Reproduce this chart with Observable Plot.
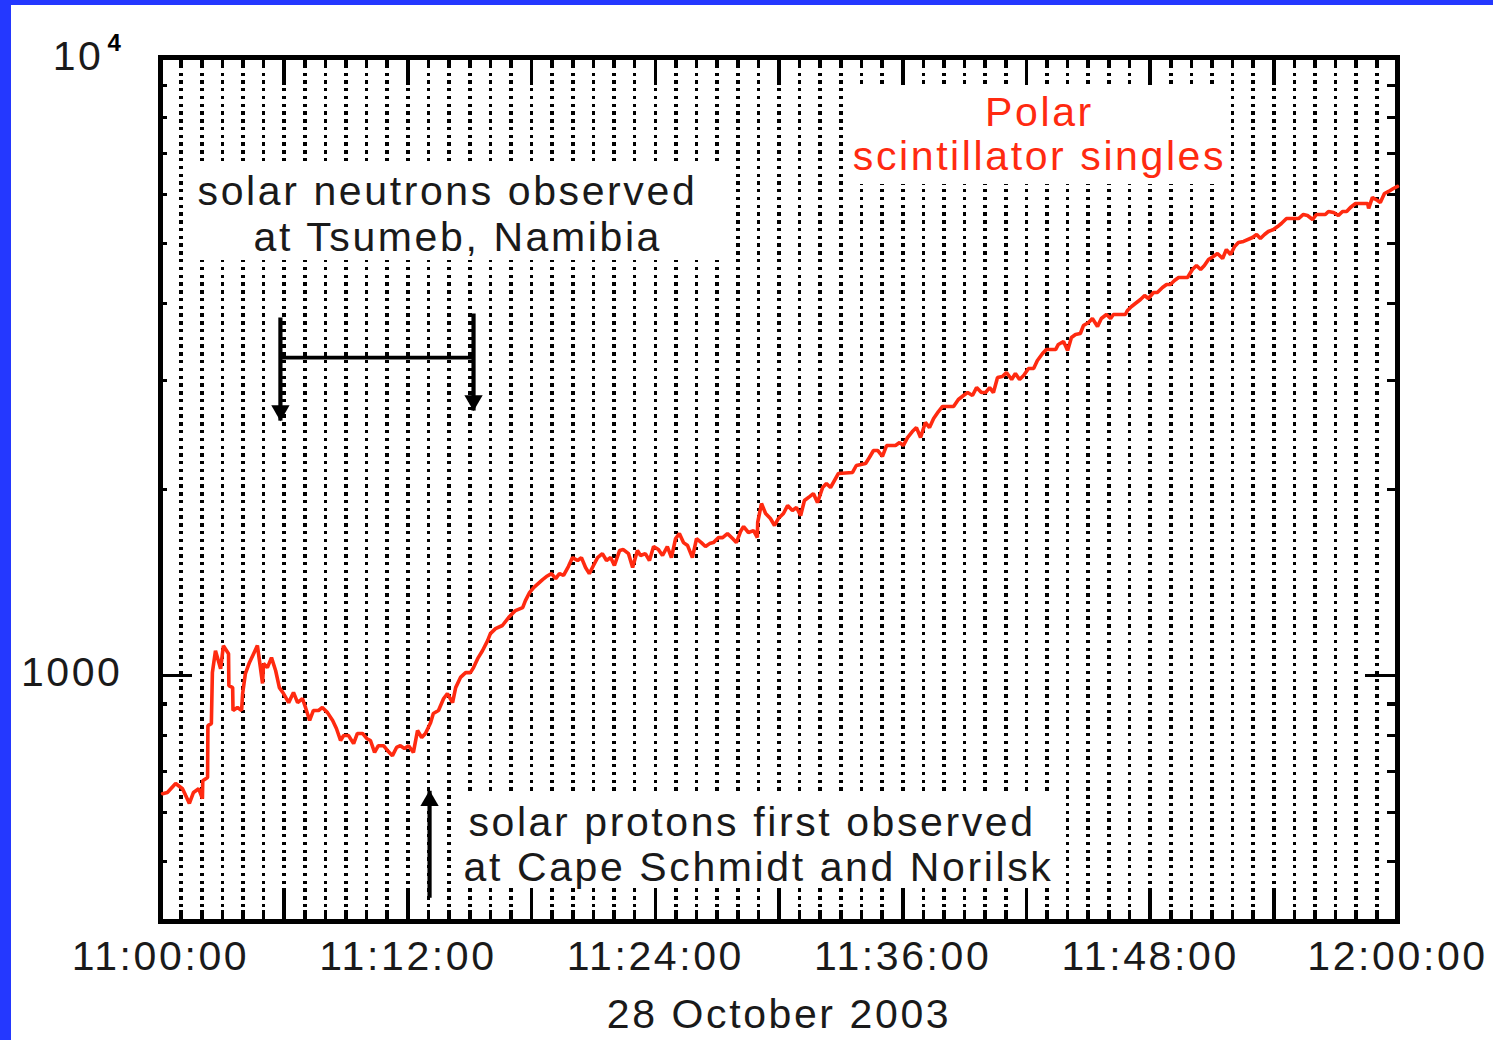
<!DOCTYPE html>
<html>
<head>
<meta charset="utf-8">
<script src="https://cdn.jsdelivr.net/npm/d3@7"></script>
<script src="https://cdn.jsdelivr.net/npm/@observablehq/plot@0.6"></script>
<style>
  html, body { margin: 0; padding: 0; background: #fff; }
  #page {
    width: 1482px; height: 1035px;
    border-left: 11px solid #2438ff;
    border-top: 5px solid #2438ff;
    background: #fff;
  }
  #page svg text { letter-spacing: 2.6px; }
</style>
</head>
<body>
<div id="page"></div>
<script>
// Polar scintillator singles rate, 28 October 2003, 11:00-12:00 UT
// time of each sample in seconds after 11:00:00
const seconds = [
  6, 20, 44, 64, 73, 84, 96, 111, 122, 123,
  137, 138, 148, 151, 160, 175, 183, 198, 199, 210,
  211, 224, 236, 239, 247, 259, 271, 282, 297, 300,
  311, 323, 335, 346, 358, 373, 387, 399, 413, 422,
  434, 445, 460, 471, 486, 501, 512, 524, 533, 547,
  562, 573, 588, 600, 611, 623, 634, 649, 661, 675,
  687, 698, 710, 722, 736, 748, 760, 771, 786, 794,
  809, 824, 835, 850, 859, 873, 888, 902, 911, 923,
  937, 952, 960, 975, 995, 1013, 1033, 1054, 1062, 1074,
  1086, 1112, 1123, 1138, 1150, 1161, 1173, 1187, 1199, 1214,
  1225, 1237, 1248, 1260, 1272, 1286, 1298, 1310, 1321, 1336,
  1347, 1362, 1374, 1388, 1397, 1411, 1423, 1435, 1449, 1461,
  1475, 1487, 1499, 1510, 1522, 1534, 1548, 1560, 1574, 1586,
  1598, 1609, 1624, 1636, 1650, 1665, 1676, 1688, 1697, 1711,
  1726, 1737, 1738, 1749, 1761, 1775, 1787, 1798, 1813, 1825,
  1839, 1851, 1863, 1874, 1889, 1900, 1912, 1927, 1938, 1950,
  1973, 2014, 2025, 2052, 2063, 2075, 2087, 2101, 2113, 2139,
  2151, 2162, 2174, 2188, 2200, 2212, 2226, 2238, 2250, 2264,
  2276, 2308, 2322, 2337, 2349, 2363, 2375, 2389, 2401, 2413,
  2424, 2436, 2450, 2462, 2477, 2488, 2500, 2512, 2526, 2541,
  2552, 2567, 2578, 2605, 2613, 2628, 2640, 2651, 2663, 2677,
  2686, 2701, 2712, 2727, 2738, 2753, 2765, 2773, 2808, 2814,
  2826, 2837, 2852, 2864, 2875, 2890, 2901, 2916, 2928, 2939,
  2951, 2963, 2989, 3003, 3015, 3027, 3038, 3050, 3064, 3076,
  3091, 3102, 3114, 3126, 3137, 3152, 3178, 3190, 3201, 3213,
  3224, 3239, 3251, 3262, 3277, 3312, 3326, 3338, 3353, 3364,
  3390, 3399, 3414, 3428, 3440, 3452, 3463, 3478, 3513, 3516,
  3527, 3542, 3550, 3562, 3574, 3588, 3600
];
// singles count rate at each sample
const counts = [
  644, 647, 669, 656, 640, 621, 647, 656, 632, 676,
  684, 830, 836, 1011, 1097, 1026, 1118, 1085, 963, 956,
  878, 888, 878, 935, 1007, 1050, 1085, 1118, 971, 1046,
  1030, 1069, 1019, 956, 935, 904, 939, 904, 918, 888,
  846, 878, 878, 888, 871, 846, 821, 785, 800, 800,
  776, 806, 806, 791, 785, 751, 770, 770, 756, 742,
  765, 770, 762, 770, 751, 815, 794, 806, 839, 868,
  878, 918, 935, 904, 956, 993, 1011, 1011, 1030, 1065,
  1097, 1139, 1169, 1191, 1205, 1241, 1274, 1288, 1322, 1362,
  1388, 1430, 1446, 1462, 1435, 1462, 1452, 1501, 1552, 1535,
  1552, 1496, 1462, 1507, 1552, 1575, 1535, 1552, 1507, 1593,
  1599, 1575, 1496, 1593, 1564, 1575, 1535, 1617, 1599, 1564,
  1617, 1552, 1666, 1697, 1641, 1623, 1552, 1666, 1641, 1617,
  1635, 1641, 1672, 1672, 1697, 1666, 1641, 1710, 1742, 1704,
  1716, 1672, 1769, 1898, 1829, 1795, 1749, 1795, 1829, 1884,
  1849, 1870, 1815, 1920, 1948, 1970, 1905, 2015, 2045, 2015,
  2123, 2131, 2187, 2203, 2253, 2313, 2313, 2262, 2356, 2356,
  2382, 2356, 2427, 2482, 2519, 2427, 2567, 2519, 2605, 2674,
  2725, 2725, 2797, 2839, 2870, 2839, 2924, 2870, 2870, 2924,
  2870, 3035, 3047, 3093, 3013, 3081, 3013, 3058, 3139, 3139,
  3234, 3319, 3369, 3369, 3433, 3471, 3357, 3523, 3563, 3576,
  3684, 3726, 3782, 3670, 3782, 3838, 3782, 3838, 3838, 3896,
  3955, 3999, 4059, 4120, 4074, 4166, 4166, 4245, 4293, 4293,
  4357, 4406, 4406, 4540, 4607, 4540, 4607, 4711, 4765, 4817,
  4730, 4890, 4800, 4946, 5019, 5039, 5114, 5171, 5095, 5171,
  5229, 5269, 5327, 5388, 5489, 5489, 5572, 5550, 5469, 5572,
  5572, 5634, 5613, 5550, 5634, 5634, 5719, 5805, 5805, 5698,
  5937, 5870, 5827, 6025, 6071, 6138, 6185
];

// axis ticks
const labelMinutes = [0, 12, 24, 36, 48, 60];
const majorTickMinutes = [6, 12, 18, 24, 30, 36, 42, 48, 54];
const yLabelValues = [1000, 10000];
const yMinorValues = [500, 600, 700, 800, 900, 2000, 3000, 4000, 5000, 6000, 7000, 8000, 9000];
const dateLabel = "28 October 2003";

// annotations (times in seconds after 11:00:00, levels in counts)
const neutronArrowTimes = [349, 911];
const neutronArrowTops = [3796, 3853];
const neutronArrowTips = [2585, 2684];
const neutronBarLevel = 3269;
const neutronLines = ["solar neutrons observed", "at Tsumeb, Namibia"];
const neutronLineTimes = [108, 271];
const neutronLineLevels = [5762, 4872];
const neutronBox = [76, 1644, 4693, 6740];

const protonArrowTime = 783;
const protonArrowBase = 437;
const protonArrowTip = 651;
const protonLines = ["solar protons first observed", "at Cape Schmidt and Norilsk"];
const protonLineTimes = [896, 882];
const protonLineLevels = [551, 466];
const protonBox = [858, 2634, 452, 639];

const seriesLines = ["Polar", "scintillator singles"];
const seriesLineTime = 2558;
const seriesLineLevels = [7762, 6565];
const seriesBox = [2002, 3114, 6231, 8910];

// layout
const W = 1482, H = 1035;
const M = {top: 52, right: 96, bottom: 119, left: 149};
const innerW = W - M.left - M.right;
const innerH = H - M.top - M.bottom;
const INK = "#000";
const TEXT = "#1a1a1a";
const RED = "#ff2a10";
const FONT = 41;
const crisp = {shapeRendering: "crispEdges"};

const at = s => new Date(Date.UTC(2003, 9, 28, 11, 0, s));
const series = seconds.map((s, i) => ({time: at(s), count: counts[i]}));
const minuteDates = d3.range(1, 60).map(m => at(m * 60));
const majorDates = majorTickMinutes.map(m => at(m * 60));
const labelDates = labelMinutes.map(m => at(m * 60));
const fmt = d3.utcFormat("%H:%M:%S");

const boxes = [neutronBox, protonBox, seriesBox].map(([t1, t2, lo, hi]) => ({t1: at(t1), t2: at(t2), lo, hi}));
const neutronArrows = neutronArrowTimes.map((t, i) => ({time: at(t), top: neutronArrowTops[i], tip: neutronArrowTips[i]}));
const lineRows = (lines, times, levels) => lines.map((text, i) => ({text, time: at(Array.isArray(times) ? times[i] : times), level: levels[i]}));
const topValue = yLabelValues[yLabelValues.length - 1];

const chart = Plot.plot({
  width: W, height: H,
  marginTop: M.top, marginRight: M.right, marginBottom: M.bottom, marginLeft: M.left,
  style: {fontFamily: "'Liberation Sans', Arial, Helvetica, sans-serif", fontSize: FONT + "px", background: "transparent", overflow: "visible"},
  x: {type: "utc", domain: [at(0), at(3600)], axis: null},
  y: {type: "log", domain: [400, 10000], axis: null},
  marks: [
    // dotted minute grid
    Plot.ruleX(minuteDates, {x: d => d, stroke: INK, strokeWidth: 3.6, strokeDasharray: "3.4,4.37", ...crisp}),
    // white label backgrounds
    Plot.rect(boxes, {x1: "t1", x2: "t2", y1: "lo", y2: "hi", fill: "white", ...crisp}),
    // minute ticks, top and bottom
    Plot.ruleX(minuteDates, {x: d => d, stroke: INK, strokeWidth: 3.6, insetTop: innerH - 11, ...crisp}),
    Plot.ruleX(minuteDates, {x: d => d, stroke: INK, strokeWidth: 3.6, insetBottom: innerH - 11, ...crisp}),
    Plot.ruleX(majorDates, {x: d => d, stroke: INK, strokeWidth: 3.6, insetTop: innerH - 30, ...crisp}),
    Plot.ruleX(majorDates, {x: d => d, stroke: INK, strokeWidth: 3.6, insetBottom: innerH - 28, ...crisp}),
    // log ticks, left and right
    Plot.ruleY(yMinorValues, {y: d => d, stroke: INK, strokeWidth: 3.4, insetRight: innerW - 7, ...crisp}),
    Plot.ruleY(yMinorValues, {y: d => d, stroke: INK, strokeWidth: 3.4, insetLeft: innerW - 10, ...crisp}),
    Plot.ruleY(yLabelValues, {y: d => d, stroke: INK, strokeWidth: 3.4, insetRight: innerW - 32, ...crisp}),
    Plot.ruleY(yLabelValues, {y: d => d, stroke: INK, strokeWidth: 3.4, insetLeft: innerW - 32, ...crisp}),
    Plot.frame({stroke: INK, strokeWidth: 4.5, ...crisp}),
    // count rate
    Plot.line(series, {x: "time", y: "count", stroke: RED, strokeWidth: 3.6, strokeLinejoin: "miter"}),
    // neutron interval bracket
    Plot.link(neutronArrows, {x1: "time", x2: "time", y1: "top", y2: "tip", stroke: INK, strokeWidth: 4.2}),
    Plot.ruleY([neutronBarLevel], {y: d => d, x1: at(neutronArrowTimes[0]), x2: at(neutronArrowTimes[1]), stroke: INK, strokeWidth: 3.6}),
    Plot.dot(neutronArrows, {x: "time", y: "tip", symbol: "triangle", r: 6.8, fill: INK, stroke: null, rotate: 180, dy: -10}),
    // proton onset arrow
    Plot.link([{time: at(protonArrowTime), base: protonArrowBase, tip: protonArrowTip}], {x1: "time", x2: "time", y1: "base", y2: "tip", stroke: INK, strokeWidth: 4.2}),
    Plot.dot([{time: at(protonArrowTime), tip: protonArrowTip}], {x: "time", y: "tip", symbol: "triangle", r: 6.8, fill: INK, stroke: null, dy: 10}),
    // annotation text
    Plot.text(lineRows(neutronLines, neutronLineTimes, neutronLineLevels), {x: "time", y: "level", text: "text", textAnchor: "start", lineAnchor: "bottom", fontSize: FONT, fill: TEXT}),
    Plot.text(lineRows(protonLines, protonLineTimes, protonLineLevels), {x: "time", y: "level", text: "text", textAnchor: "start", lineAnchor: "bottom", fontSize: FONT, fill: TEXT}),
    Plot.text(lineRows(seriesLines, seriesLineTime, seriesLineLevels), {x: "time", y: "level", text: "text", textAnchor: "middle", lineAnchor: "bottom", fontSize: FONT, fill: RED}),
    // axis labels
    Plot.text(labelDates, {x: d => d, frameAnchor: "bottom", dy: 48, text: d => fmt(d), lineAnchor: "bottom", fontSize: FONT, fill: TEXT}),
    Plot.text(yLabelValues.filter(v => v < topValue), {y: d => d, frameAnchor: "left", dx: -38, dy: -3, textAnchor: "end", lineAnchor: "middle", text: d => String(d), fontSize: FONT, fill: TEXT}),
    // 10 with a raised exponent 4
    Plot.text([topValue], {y: d => d, frameAnchor: "left", dx: -57, dy: -1, textAnchor: "end", lineAnchor: "middle", text: () => "10", fontSize: FONT, fill: TEXT}),
    Plot.text([topValue], {y: d => d, frameAnchor: "left", dx: -53, dy: -14, textAnchor: "start", lineAnchor: "middle", text: d => String(Math.round(Math.log10(d))), fontSize: 24, fontWeight: "bold", fill: INK}),
    Plot.text([dateLabel], {frameAnchor: "bottom", dy: 106, lineAnchor: "bottom", text: d => d, fontSize: FONT, fill: TEXT})
  ]
});
document.getElementById("page").appendChild(chart);
</script>
</body>
</html>
